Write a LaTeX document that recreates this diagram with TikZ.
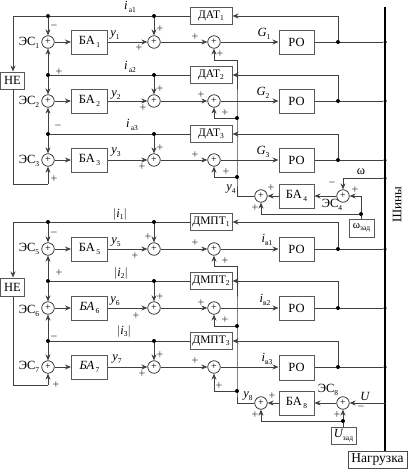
\documentclass[tikz,border=0pt]{standalone}
\usepackage{fontspec}
\setmainfont{Liberation Serif}
\usetikzlibrary{arrows.meta}
\newcommand\sbx[1]{\raisebox{-0.45ex}{\fontsize{7.5}{7.5}\selectfont #1}}
\newcommand\iv[2]{{\itshape #1}\sbx{#2}}
\tikzset{x=1pt,y=-1pt,
  wire/.style={line width=0.85pt,draw=black!75},
  arr/.style={wire,-{Stealth[length=6pt,width=5pt]}},
  blockbox/.style={draw=black!65,line width=1pt,fill=white,inner sep=0pt,minimum width=36pt,minimum height=24pt,font=\fontsize{12.5}{12.5}\selectfont},
  sensor/.style={blockbox,minimum width=42pt,minimum height=17.5pt,font=\fontsize{11.5}{11.5}\selectfont},
  sumnode/.style={circle,draw=black!85,line width=0.75pt,fill=white,minimum size=12.5pt,inner sep=0pt,font=\fontsize{10}{10}\selectfont},
  dot/.style={circle,fill=black,minimum size=4pt,inner sep=0pt},
  lbl/.style={inner sep=0pt,font=\fontsize{12.5}{12.5}\selectfont},
  sgn/.style={inner sep=0pt,text=black!80,font=\fontsize{12}{12}\selectfont},
}
\begin{document}
\begin{tikzpicture}
\path[use as bounding box] (0,0) rectangle (408,469);
% bus
\node[inner sep=0pt,draw=black!70,line width=0.9pt,minimum width=59pt,minimum height=17pt,font=\fontsize{13.5}{13.5}\selectfont] (load) at (377.5,459.5) {Нагрузка};
\coordinate (bustop) at (385,7);
\draw[line width=2.5pt] (bustop) -- (385,451);
% channels
\foreach \n/\y/\t/\fb/\ba/\dd/\rc/\rh in {
 1/42/16/60/БА\sbx{\,1}/ДАТ\sbx{1}/42/24,
 2/101/75/118/БА\sbx{\,2}/ДАТ\sbx{2}/101/24,
 3/160/134/177/БА\sbx{\,3}/ДАТ\sbx{3}/160/24,
 5/249/222/266/БА\sbx{\,5}/ДМПТ\sbx{1}/249/24,
 6/308/281/326/{\itshape БА}\sbx{\,6}/ДМПТ\sbx{2}/308/24,
 7/367/341/391/{\itshape БА}\sbx{\,7}/ДМПТ\sbx{3}/367.5/25}{
  \node[sumnode] (e\n) at (48,\y) {+};
  \node[blockbox] (b\n) at (89.5,\y) {\ba};
  \node[sumnode] (p\n) at (154,\y) {+};
  \node[sumnode] (q\n) at (214,\y) {+};
  \node[blockbox,minimum width=35pt,minimum height=\rh pt] (r\n) at (296.5,\rc) {РО};
  \node[dot] (j\n) at (338,\y) {};
  \node[dot,minimum size=3.5pt] (B\n) at (385,\y) {};
  \node[dot] (tl\n) at (48,\t) {};
  \node[dot] (tm\n) at (154,\t) {};
  \node[sensor] (D\n) at (211,\t) {\dd};
  \coordinate (f\n) at (214,\fb);
  \coordinate (g\n) at (237,\fb);
  \draw[arr] (e\n) -- (b\n);
  \draw[arr] (b\n) -- (p\n);
  \draw[arr] (p\n) -- (q\n);
  \draw[arr] (q\n) -- (q\n -| r\n.west);
  \draw[wire] (r\n.east |- j\n) -- (j\n) -- (B\n);
  \draw[arr] (j\n) |- (D\n.east);
  \draw[wire] (tl\n) -- (tm\n) -- (D\n);
  \draw[arr] (tl\n) -- (e\n);
  \draw[arr] (tm\n) -- (p\n);
  \draw[arr] (g\n) -- (f\n) -- (q\n);
}
% cross links between channels
\draw[arr] (tl2) -- (e1);
\draw[arr] (tl3) -- (e2);
\draw[arr] (tl6) -- (e5);
\draw[arr] (tl7) -- (e6);
% NE blocks
\node[blockbox,minimum width=23.5pt,minimum height=17pt] (ne1) at (12.5,80.5) {НЕ};
\node[blockbox,minimum width=23.5pt,minimum height=18pt] (ne2) at (12.5,287) {НЕ};
\coordinate (c1) at (13,16);
\coordinate (c2) at (13,184);
\coordinate (c3) at (48,184);
\coordinate (c4) at (13,222);
\coordinate (c5) at (13,385);
\coordinate (c6) at (48,385);
\draw[wire] (tl1) -- (c1);
\draw[arr] (c1) -- (c1 |- ne1.north);
\draw[wire] (c1 |- ne1.south) -- (c2) -- (c3);
\draw[arr] (c3) -- (e3);
\draw[wire] (tl5) -- (c4);
\draw[arr] (c4) -- (c4 |- ne2.north);
\draw[wire] (c4 |- ne2.south) -- (c5) -- (c6);
\draw[arr] (c6) -- (e7);
% speed channel
\node[sumnode] (s4) at (261,196) {+};
\node[blockbox,minimum width=35pt,minimum height=24pt] (b4) at (296.5,196) {БА\sbx{\,4}};
\node[sumnode] (es4) at (343,196) {+};
\node[blockbox,minimum width=25pt,minimum height=18pt,font=\fontsize{11}{11}\selectfont] (wz) at (361.5,228) {ω\sbx{зад}};
\node[dot,minimum size=3.5pt] (Bw) at (385,178) {};
\node[dot] (jw) at (361,214) {};
\coordinate (cw) at (343,178);
\coordinate (cr) at (361,196);
\coordinate (cs) at (261,214);
\coordinate (gy4) at (237,196);
\draw[wire] (Bw) -- (cw);
\draw[arr] (cw) -- (es4);
\draw[wire] (wz.north -| jw) -- (jw) -- (cr);
\draw[arr] (cr) -- (es4);
\draw[wire] (jw) -- (cs);
\draw[arr] (cs) -- (s4);
\draw[arr] (es4) -- (es4 -| b4.east);
\draw[arr] (b4.west |- s4) -- (s4);
\draw[wire] (g1) -- (g2) -- (g3) -- (gy4) -- (s4);
\node[dot] (d2) at (g2) {};
\node[dot] (d3) at (g3) {};
% voltage channel
\node[sumnode] (s8) at (261,403) {+};
\node[blockbox,minimum width=35pt,minimum height=24pt] (b8) at (296.5,403) {БА\sbx{\,8}};
\node[sumnode] (es8) at (343,403) {+};
\node[blockbox,minimum width=25pt,minimum height=17pt] (uz) at (343.5,435.5) {{\itshape U}\sbx{зад}};
\node[dot] (ju) at (343,421) {};
\coordinate (bu) at (385,403);
\coordinate (cu) at (261,421);
\coordinate (gy8) at (237,403);
\draw[wire] (uz.north -| ju) -- (ju);
\draw[arr] (ju) -- (es8);
\draw[arr] (bu) -- (es8);
\draw[wire] (ju) -- (cu);
\draw[arr] (cu) -- (s8);
\draw[arr] (es8) -- (es8 -| b8.east);
\draw[arr] (b8.west |- s8) -- (s8);
\draw[wire] (g5) -- (g6) -- (g7) -- (gy8) -- (s8);
\node[dot] (d6) at (g6) {};
\node[dot] (d7) at (g7) {};
% text labels
\foreach \x/\y/\t [count=\i] in {
 29/43/ЭС\sbx{1}, 29/102/ЭС\sbx{2}, 29/161/ЭС\sbx{3}, 29/249/ЭС\sbx{5}, 29/311/ЭС\sbx{6}, 29/367/ЭС\sbx{7},
 130/7/\iv{i}{\,а1}, 130/67/\iv{i}{\,а2}, 132/125/\iv{i}{\,а3},
 115/35/\iv{y}{1}, 116/95/\iv{y}{2}, 116/152/\iv{y}{3}, 116/242/\iv{y}{5}, 115/301/\iv{y}{6}, 117/359/\iv{y}{7},
 264/34/\iv{G}{1}, 263/93/\iv{G}{2}, 263/152/\iv{G}{3},
 267/240/\iv{i}{в1}, 265/300/\iv{i}{в2}, 267/359/\iv{i}{в3},
 120/214/$|$\iv{i}{1}$|$, 121/273/$|$\iv{i}{2}$|$, 124/331/$|$\iv{i}{3}$|$,
 231/189/\iv{y}{4}, 248/396/\iv{y}{8}, 332/205/ЭС\sbx{4}, 328/390/ЭС\sbx{8},
 361/172/ω, 365/396/{\itshape U}}{
  \node[lbl] (lb\i) at (\x,\y) {\t};
}
\node[lbl,rotate=90,font=\fontsize{13}{13}\selectfont] (lbbus) at (397,205) {Шины};
% signs
\foreach \x/\y/\t [count=\i] in {
 54/27/−,160/29/+,139/48/+,195/37/+,220/54/+,
 59/72/+,160/89/+,143/108/+,201/95/+,225/113/+,
 58/127/−,160/148/+,142/167/+,195/155/+,226/172/+,54/179/+,
 332/184/−,355/190/+,271/188/+,255/208/+,
 54/234/−,148/237/+,135/256/+,195/243/+,225/261/+,
 59/273/+,160/297/+,136/316/+,201/303/+,225/320/+,
 54/338/−,160/355/+,142/374/+,195/361/+,219/386/+,56/385/+,
 272/396/+,255/415/+,361/408/−,337/415/+}{
  \node[sgn] (sg\i) at (\x,\y) {\t};
}
\end{tikzpicture}
\end{document}
